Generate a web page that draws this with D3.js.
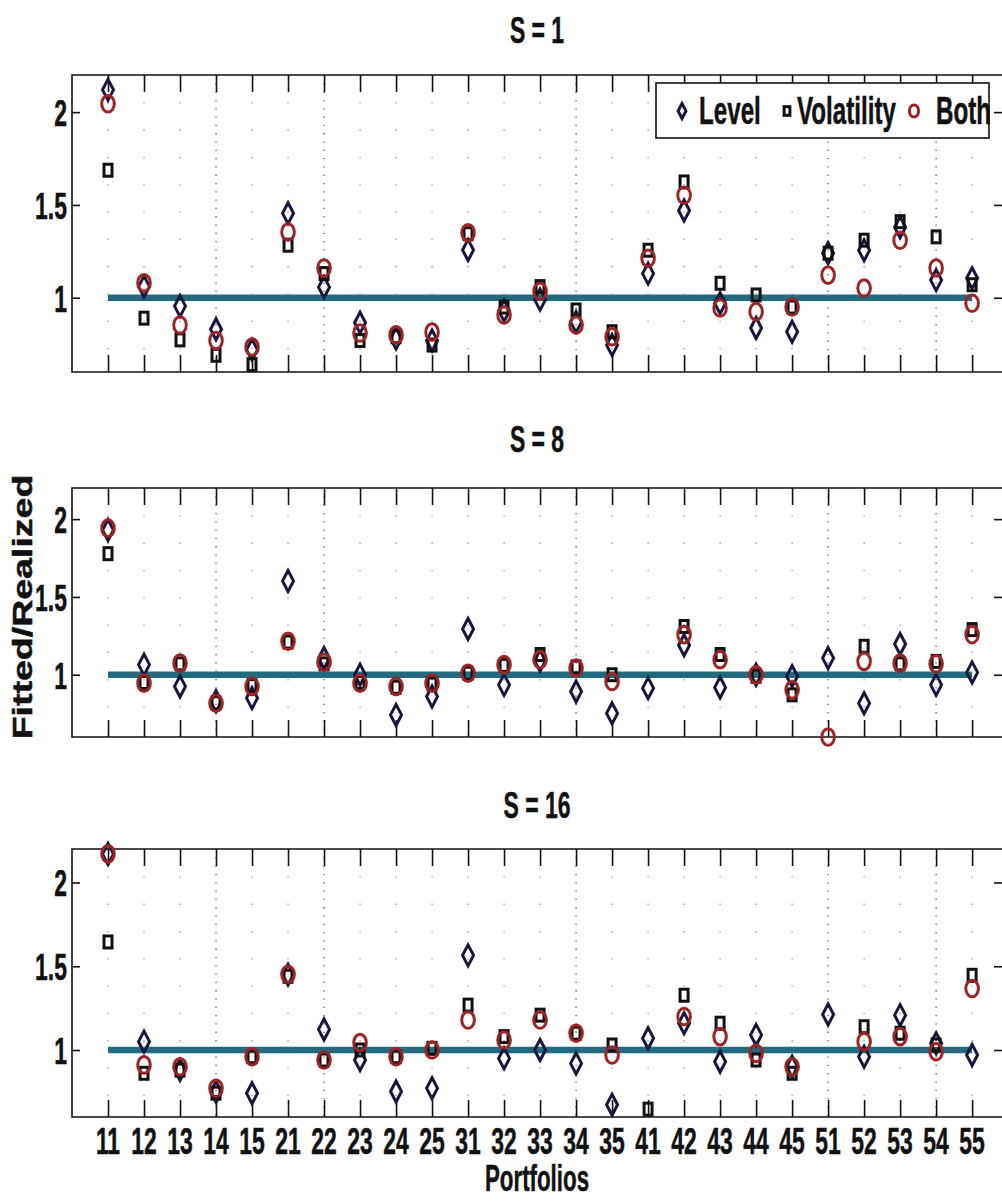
<!DOCTYPE html>
<html>
<head>
<meta charset="utf-8">
<script src="https://cdn.jsdelivr.net/npm/d3@7"></script>
<style>
  body { margin: 0; background: #fff; }
  text { font-family: "Liberation Sans", Arial, sans-serif; font-weight: bold; fill: #111;
         stroke: #111; stroke-width: 0.5; }
</style>
</head>
<body>
<svg id="chart" width="1002" height="1204"></svg>
<script>
// Data (ratio fitted / realized, per portfolio)
const portfolios = ["11","12","13","14","15","21","22","23","24","25","31","32","33","34","35",
                    "41","42","43","44","45","51","52","53","54","55"];

// S = 1
const level1 = [2.12,1.06,0.955,0.83,0.72,1.455,1.057,0.865,0.78,0.77,1.257,0.93,0.99,0.87,0.745,
                1.13,1.47,0.97,0.837,0.817,1.24,1.256,1.38,1.095,1.105];
const vol1   = [1.687,0.89,0.773,0.69,0.64,1.283,1.13,0.77,0.79,0.745,1.345,0.95,1.06,0.934,0.817,
                1.256,1.624,1.078,1.015,0.95,1.24,1.31,1.41,1.328,1.07];
const both1  = [2.045,1.08,0.853,0.77,0.735,1.354,1.16,0.81,0.80,0.815,1.35,0.907,1.035,0.853,0.79,
                1.213,1.552,0.945,0.925,0.95,1.122,1.052,1.31,1.16,0.97];

// S = 8
const level8 = [1.93,1.065,0.925,0.83,0.85,1.602,1.107,1.0,0.742,0.86,1.294,0.935,1.09,0.892,0.752,
                0.914,1.19,0.918,1.0,0.99,1.107,0.817,1.198,0.935,1.015];
const vol8   = [1.778,0.95,1.07,0.82,0.93,1.21,1.07,0.95,0.92,0.94,1.01,1.06,1.13,1.05,1.0,
                null,1.31,1.13,0.99,0.871,null,1.183,1.07,1.086,1.29];
const both8  = [1.942,0.946,1.075,0.817,0.925,1.215,1.08,0.946,0.925,0.946,1.01,1.065,1.097,1.043,0.957,
                null,1.258,1.097,1.0,0.903,0.6,1.086,1.075,1.07,1.258];

// S = 16
const level16 = [2.17,1.05,0.88,0.75,0.742,1.45,1.123,0.94,0.752,0.772,1.565,0.95,1.0,0.92,0.673,
                 1.07,1.16,0.93,1.09,0.9,1.212,0.96,1.208,1.04,0.97];
const vol16   = [1.645,0.861,0.88,0.742,0.96,1.44,0.94,1.0,0.96,1.01,1.268,1.08,1.208,1.1,1.03,
                 0.647,1.327,1.16,0.94,0.861,null,1.139,1.1,1.03,1.446];
const both16  = [2.171,0.911,0.90,0.772,0.96,1.452,0.94,1.044,0.96,1.0,1.179,1.06,1.179,1.1,0.97,
                 null,1.2,1.08,0.98,0.90,null,1.05,1.08,0.99,1.367];

const titles = ["S = 1", "S = 8", "S = 16"];
const yTicks = [1, 1.5, 2];
const legendLabels = ["Level", "Volatility", "Both"];
const refValue = 1;

// Layout / style
const squeeze = 0.62;              // the scan is stretched vertically: condense horizontal text
const denseGrid = ["14","22","34","51","54"];
const panels = [
  {top: 75,  bottom: 372,  titleY: 43},
  {top: 488, bottom: 737,  titleY: 452},
  {top: 849, bottom: 1117, titleY: 818}
];
const series = [[level1, vol1, both1], [level8, vol8, both8], [level16, vol16, both16]];
const colors = {level: "#17173e", vol: "#111111", both: "#9e2226", ref: "#226a7c"};

const svg = d3.select("#chart");
const x = d3.scaleLinear().domain([0, 25.83]).range([72, 1002]);
const xi = i => x(i + 1);

function squeezed(g, tx, ty, str, size, anchor) {
  return g.append("text")
    .attr("transform", `translate(${tx},${ty}) scale(${squeeze},1)`)
    .attr("text-anchor", anchor)
    .attr("font-size", size)
    .text(str);
}

// one marker, s scales it down for the legend
function marker(g, kind, cx, cy, s) {
  if (kind === 0) {
    g.append("path")
      .attr("d", `M${cx},${cy - 10.5 * s}L${cx + 5.5 * s},${cy}L${cx},${cy + 10.5 * s}L${cx - 5.5 * s},${cy}Z`)
      .attr("fill", "none").attr("stroke", colors.level).attr("stroke-width", 3);
  } else if (kind === 1) {
    g.append("rect")
      .attr("x", cx - 4 * s).attr("y", cy - 6 * s)
      .attr("width", 8 * s).attr("height", 12 * s)
      .attr("fill", "none").attr("stroke", colors.vol).attr("stroke-width", 3);
  } else {
    g.append("ellipse")
      .attr("cx", cx).attr("cy", cy).attr("rx", 6.3 * s).attr("ry", 8.3 * s)
      .attr("fill", "none").attr("stroke", colors.both).attr("stroke-width", 3);
  }
}

panels.forEach((p, k) => {
  const g = svg.append("g");
  const y = d3.scaleLinear().domain([0.6, 2.2]).range([p.bottom, p.top]);

  // dotted vertical grid
  g.append("g").selectAll("line")
    .data(portfolios)
    .join("line")
      .attr("x1", (d, i) => xi(i)).attr("x2", (d, i) => xi(i))
      .attr("y1", p.top).attr("y2", p.bottom)
      .attr("stroke", "#333")
      .attr("stroke-width", 1.3)
      .attr("stroke-dasharray", d => denseGrid.includes(d) ? "1.3,7" : "1.3,26")
      .attr("opacity", d => denseGrid.includes(d) ? 0.8 : 0.5);

  // reference line at 1
  g.append("line")
    .attr("x1", xi(0)).attr("x2", xi(portfolios.length - 1))
    .attr("y1", y(refValue)).attr("y2", y(refValue))
    .attr("stroke", colors.ref).attr("stroke-width", 6.5);

  // x ticks, inside, top and bottom
  const tickVals = portfolios.map((d, i) => i + 1);
  g.append("g").attr("transform", `translate(0,${p.top})`)
    .call(d3.axisTop(x).tickValues(tickVals).tickSize(-17).tickFormat(""))
    .call(a => a.select(".domain").remove());
  g.append("g").attr("transform", `translate(0,${p.bottom})`)
    .call(d3.axisBottom(x).tickValues(tickVals).tickSize(-17).tickFormat(""))
    .call(a => a.select(".domain").remove());

  // y ticks, inside, left and right
  const yAxis = g.append("g").attr("transform", "translate(72,0)")
    .call(d3.axisLeft(y).tickValues(yTicks).tickSize(-8).tickPadding(5).tickFormat(d3.format("")))
    .call(a => a.select(".domain").remove());
  yAxis.selectAll("text")
    .attr("font-size", 37)
    .attr("font-family", null)
    .attr("fill", null)
    .attr("x", -5 / squeeze)
    .attr("dy", "0.36em")
    .attr("transform", `scale(${squeeze},1)`);
  g.append("g").attr("transform", "translate(1002,0)")
    .call(d3.axisRight(y).tickValues(yTicks).tickSize(-8).tickFormat(""))
    .call(a => a.select(".domain").remove());

  g.selectAll(".tick line").attr("stroke", "#111").attr("stroke-width", 1.6);

  // frame
  g.append("path")
    .attr("d", `M1002,${p.top}H72V${p.bottom}H1002`)
    .attr("fill", "none").attr("stroke", "#111").attr("stroke-width", 1.6);

  // markers: level, volatility, both
  series[k].forEach((vals, kind) => {
    const mg = g.append("g");
    vals.forEach((v, i) => {
      if (v === null) return;
      marker(mg, kind, xi(i), y(v), 1);
    });
  });

  // title
  squeezed(svg, 537, p.titleY, titles[k], 37, "middle");
});

// legend in the first panel
const lg = svg.append("g");
lg.append("rect")
  .attr("x", 656).attr("y", 83).attr("width", 333).attr("height", 55)
  .attr("fill", "#fff").attr("stroke", "#111").attr("stroke-width", 1.6);
const legendMarkX = [682, 787, 914];
const legendTextX = [699, 797, 936];
legendLabels.forEach((lab, i) => {
  marker(lg, i, legendMarkX[i], 111, 0.72);
  squeezed(lg, legendTextX[i], 124, lab, 39, "start");
});

// x tick labels under the last panel
const xl = svg.append("g");
portfolios.forEach((d, i) => squeezed(xl, xi(i), 1154, d, 37, "middle"));
squeezed(xl, 537, 1191, "Portfolios", 36, "middle").attr("font-weight", "normal");

// y label
svg.append("text")
  .attr("transform", "translate(32,607) rotate(-90) scale(1.34,1)")
  .attr("text-anchor", "middle")
  .attr("font-size", 28)
  .attr("stroke-width", 0.9)
  .text("Fitted/Realized");
</script>
</body>
</html>
